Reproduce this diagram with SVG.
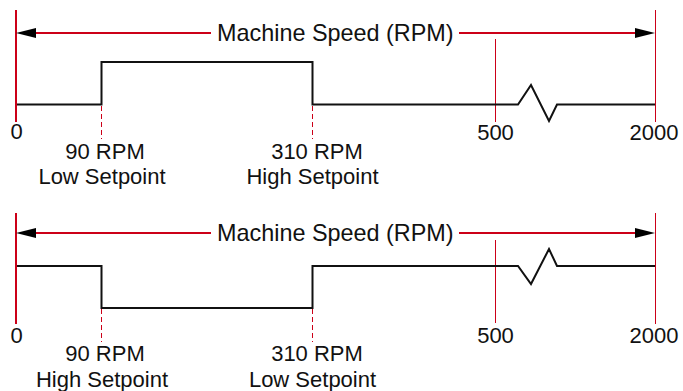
<svg xmlns="http://www.w3.org/2000/svg" width="683" height="391" viewBox="0 0 683 391">
<style>
.bg{fill:#ffffff}
.axis{stroke:#cc0018;stroke-width:2;fill:none}
.thin{stroke:#cc0018;stroke-width:1;fill:none}
.dash{stroke:#cc0018;stroke-width:1;stroke-dasharray:5,3;fill:none}
.sig{stroke:#111111;stroke-width:2;fill:none;stroke-linejoin:miter}
.head{fill:#000000}
text{font-family:"Liberation Sans",Arial,sans-serif;font-size:22px;fill:#111111;text-anchor:middle}
.title{font-size:23.4px;text-anchor:start}
</style>
<rect class="bg" x="0" y="0" width="683" height="391"/>
<g id="connectors">
  <line class="axis" x1="16" y1="10" x2="16" y2="122"/>
  <line class="thin" x1="655.5" y1="10" x2="655.5" y2="122"/>
  <line class="thin" x1="495.5" y1="39" x2="495.5" y2="122"/>
  <line class="axis" x1="34" y1="33" x2="211" y2="33"/>
  <polygon class="head" points="16,33 36,28 36,38"/>
  <line class="axis" x1="459" y1="33" x2="637" y2="33"/>
  <polygon class="head" points="655,33 635,28 635,38"/>
  <polyline class="sig" points="17,104.5 101.5,104.5 101.5,62 312.5,62 312.5,104.5 518,104.5 531,85 549,121 557,104.5 655,104.5"/>
  <line class="dash" x1="101.5" y1="106" x2="101.5" y2="139"/>
  <line class="dash" x1="312.5" y1="106" x2="312.5" y2="139"/>
  <line class="axis" x1="16" y1="213" x2="16" y2="324"/>
  <line class="thin" x1="655.5" y1="213" x2="655.5" y2="324"/>
  <line class="thin" x1="495.5" y1="240" x2="495.5" y2="323"/>
  <line class="axis" x1="34" y1="233" x2="211" y2="233"/>
  <polygon class="head" points="16,233 36,228 36,238"/>
  <line class="axis" x1="459" y1="233" x2="637" y2="233"/>
  <polygon class="head" points="655,233 635,228 635,238"/>
  <polyline class="sig" points="17,266 101.5,266 101.5,308 312.5,308 312.5,266 518,266 531,284 549,249 557,266 655,266"/>
  <line class="dash" x1="101.5" y1="309" x2="101.5" y2="342"/>
  <line class="dash" x1="312.5" y1="309" x2="312.5" y2="342"/>
</g>
<g id="top-title"><text class="title" x="217" y="41">Machine Speed (RPM)</text></g>
<g id="top-0"><text x="16.5" y="139">0</text></g>
<g id="top-90"><text x="105" y="159">90 RPM</text><text x="102" y="184">Low Setpoint</text></g>
<g id="top-310"><text x="317" y="159">310 RPM</text><text x="312.5" y="184">High Setpoint</text></g>
<g id="top-500"><text x="495.5" y="140">500</text></g>
<g id="top-2000"><text x="654" y="140">2000</text></g>
<g id="bottom-title"><text class="title" x="217" y="241">Machine Speed (RPM)</text></g>
<g id="bottom-0"><text x="16.5" y="343">0</text></g>
<g id="bottom-90"><text x="105" y="361">90 RPM</text><text x="102" y="387">High Setpoint</text></g>
<g id="bottom-310"><text x="317" y="361">310 RPM</text><text x="312.5" y="387">Low Setpoint</text></g>
<g id="bottom-500"><text x="495.5" y="343">500</text></g>
<g id="bottom-2000"><text x="654" y="343">2000</text></g>
</svg>
